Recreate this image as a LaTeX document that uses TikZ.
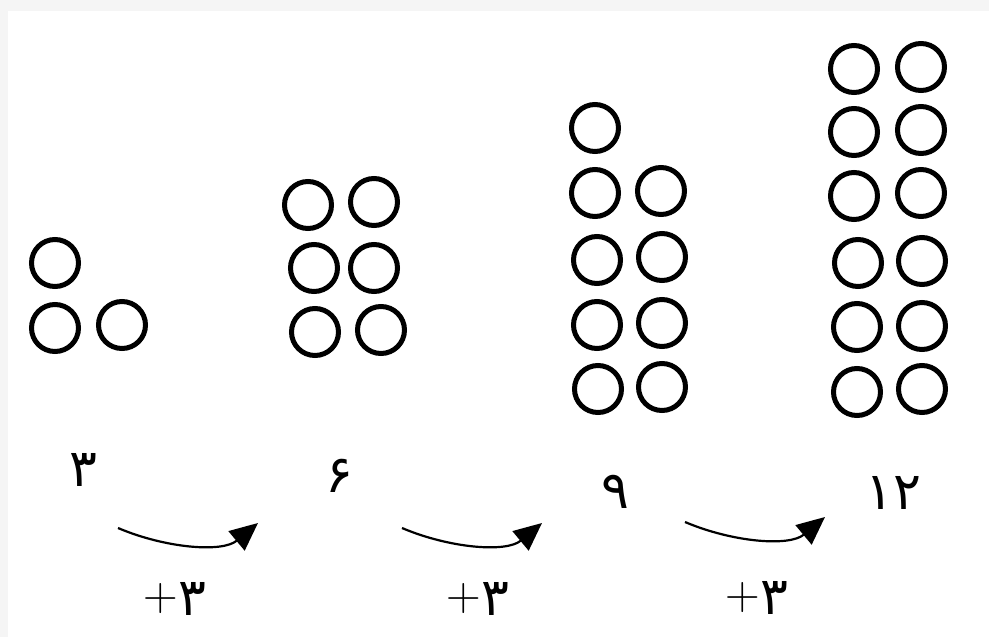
\documentclass[tikz,border=0pt]{standalone}
\usepackage{fontspec}
\newfontfamily\arabicfont[Script=Arabic]{DejaVu Sans}
\usetikzlibrary{arrows.meta}
\newcommand{\plussign}{\raisebox{5.5pt}{\rmfamily\fontsize{48}{56}\selectfont+}}
\begin{document}
\begin{tikzpicture}[x=1pt,y=-1pt,
  dot/.style={draw=black,circle,line width=5pt,minimum size=47pt,inner sep=0pt},
  num/.style={font=\arabicfont\fontsize{52}{60}\selectfont,inner sep=0pt},
  jump/.style={line width=2.2pt,-{Triangle[length=28pt,width=25pt]}}]
\useasboundingbox (0,0) rectangle (989,637);
\fill[white] (0,0) rectangle (989,637);
\fill[black!4] (0,0) rectangle (989,11);
\fill[black!4] (0,0) rectangle (8,637);
% group 1
\node[dot] (a1) at (55,263) {};
\node[dot] (a2) at (55,328) {};
\node[dot] (a3) at (122,325) {};
% group 2
\node[dot] (b1) at (308,205) {};
\node[dot] (b2) at (374,202) {};
\node[dot] (b3) at (314,268) {};
\node[dot] (b4) at (374,268) {};
\node[dot] (b5) at (315,332) {};
\node[dot] (b6) at (381,330) {};
% group 3
\node[dot] (c1) at (595,128) {};
\node[dot] (c2) at (595,193) {};
\node[dot] (c3) at (661,191) {};
\node[dot] (c4) at (597,260) {};
\node[dot] (c5) at (662,257) {};
\node[dot] (c6) at (597,325) {};
\node[dot] (c7) at (662,323) {};
\node[dot] (c8) at (598,389) {};
\node[dot] (c9) at (662,387) {};
% group 4
\node[dot] (d1) at (854,69) {};
\node[dot] (d2) at (921,67) {};
\node[dot] (d3) at (854,132) {};
\node[dot] (d4) at (921,130) {};
\node[dot] (d5) at (854,196) {};
\node[dot] (d6) at (921,193) {};
\node[dot] (d7) at (858,263) {};
\node[dot] (d8) at (922,261) {};
\node[dot] (d9) at (857,327) {};
\node[dot] (d10) at (922,326) {};
\node[dot] (d11) at (857,392) {};
\node[dot] (d12) at (922,389) {};
% counts
\node[num] (n1) at (83,470) {۳};
\node[num] (n2) at (339,476) {۶};
\node[num] (n3) at (615,492) {۹};
\node[num] (n4) at (893,493) {۱۲};
% plus labels
\node[num] (p1) at (175,599) {\plussign۳};
\node[num] (p2) at (478,599) {\plussign۳};
\node[num] (p3) at (757,598) {\plussign۳};
% arrows
\coordinate (s1) at (118,528); \coordinate (e1) at (258,523);
\coordinate (s2) at (402,528); \coordinate (e2) at (542,523);
\coordinate (s3) at (685,522); \coordinate (e3) at (825,517);
\draw[jump] (s1) .. controls (165,548) and (222,553) .. (e1);
\draw[jump] (s2) .. controls (449,548) and (506,553) .. (e2);
\draw[jump] (s3) .. controls (732,542) and (789,547) .. (e3);
\end{tikzpicture}
\end{document}
